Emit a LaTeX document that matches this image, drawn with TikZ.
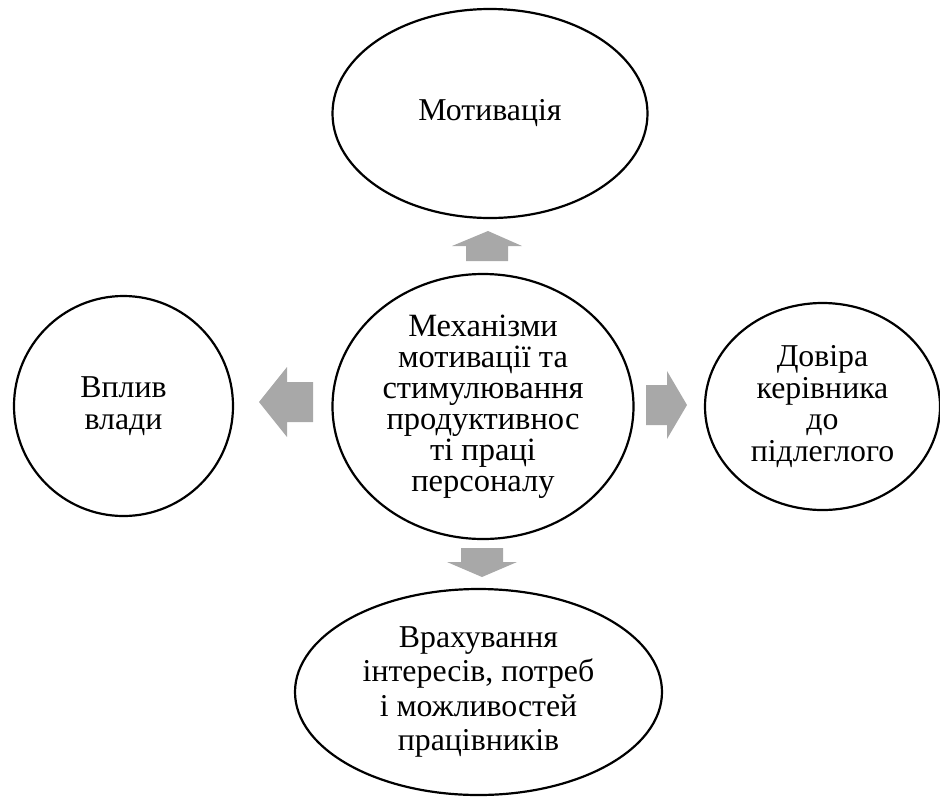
\documentclass[tikz,border=0pt]{standalone}
\usepackage{fontspec}
\setmainfont{Liberation Serif}
\usetikzlibrary{shapes.geometric}
\definecolor{arrowgray}{RGB}{168,168,168}
\begin{document}
\begin{tikzpicture}[x=1pt,y=-1pt,
  bubble/.style={draw=black, line width=2.2pt, ellipse, inner sep=0pt, align=center,
    font=\fontsize{31.8}{31.5}\selectfont},
  blockarrow/.style={fill=arrowgray, draw=none}]
\useasboundingbox (0,0) rectangle (940,796);
\node[bubble, minimum width=315, minimum height=209] (mot) at (490,113.5) {Мотивація};
\node[bubble, minimum width=301, minimum height=265, font=\fontsize{32.5}{31}\selectfont]
  (mech) at (483,406.5)
  {Механізми\\мотивації та\\стимулювання\\продуктивнос\\ті праці\\персоналу};
\node[bubble, minimum width=219, minimum height=220] (vplyv) at (123.5,406) {Вплив\\влади};
\node[bubble, minimum width=235, minimum height=207] (dovira) at (822.5,406.5)
  {Довіра\\керівника\\до\\підлеглого};
\node[bubble, minimum width=367, minimum height=206, font=\fontsize{31.8}{34.5}\selectfont]
  (vrakh) at (478.5,692) {Врахування\\інтересів, потреб\\і можливостей\\працівників};
% block arrows from the centre towards each bubble
\fill[blockarrow] (488,231) -- (522,246) -- (508,246) -- (508,261) -- (466,261) -- (466,246) -- (452,246) -- cycle;
\fill[blockarrow] (482,577) -- (517,562) -- (503,562) -- (503,548) -- (461,548) -- (461,562) -- (447,562) -- cycle;
\fill[blockarrow] (259,402) -- (287,367) -- (287,382) -- (313,382) -- (313,422) -- (287,422) -- (287,437) -- cycle;
\fill[blockarrow] (687,405) -- (667,371) -- (667,385) -- (646,385) -- (646,425) -- (667,425) -- (667,439) -- cycle;
\end{tikzpicture}
\end{document}
